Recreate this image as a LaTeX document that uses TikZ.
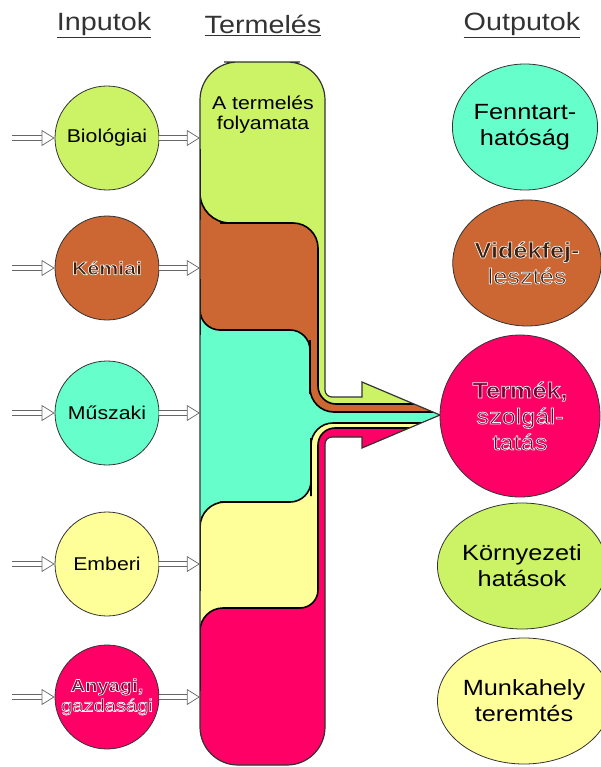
\documentclass[tikz,border=0pt]{standalone}
\usepackage{fontspec}
\setmainfont{Liberation Sans}[FakeStretch=1.15]
\usetikzlibrary{arrows.meta, shapes.geometric}

\definecolor{zold}{HTML}{CCF266}
\definecolor{barna}{HTML}{CC6633}
\definecolor{turkiz}{HTML}{66FFCC}
\definecolor{sarga}{HTML}{FFFF99}
\definecolor{piros}{HTML}{FF0066}
\definecolor{vonal}{HTML}{333333}

% light edge round the letters (fill, then stroke)
\newcommand\halo[1]{\bfseries\special{pdf:literal direct 0.95 0.95 0.95 RG 0.7 w 2 Tr}#1\special{pdf:literal direct 0 Tr}}

\newcommand\termelesut{(262,62) [rounded corners=38pt] -- (325,62) -- (325,250) [rounded corners=7pt] -- (325,300) -- (325,397) -- (345,397) [sharp corners] -- (355,397) -- (362,397) -- (362,382) -- (440,415) -- (362,448) -- (362,437) -- (355,437) [rounded corners=7pt] -- (345,437) -- (325,437) -- (325,500) [rounded corners=38pt] -- (325,600) -- (325,765) -- (200,765) -- (200,62) -- cycle}

\begin{document}
\begin{tikzpicture}[
        x=1pt, y=-1pt,
        bemenet/.style = {circle, draw=vonal, fill=#1, line width=0.8pt, minimum size=104pt, inner sep=0pt, align=center, font=\fontsize{18.5}{20}\selectfont},
        kimenet/.style = {ellipse, draw=vonal, fill=#1, line width=0.8pt, minimum width=136pt, minimum height=126pt, inner sep=0pt, align=center, font=\fontsize{22}{26}\selectfont},
        fejlec/.style = {text=black!80, font=\fontsize{25}{30}\selectfont},
        sav/.style = {fill=#1, draw=black, line width=1.6pt},
        hollow/.style = {draw=gray!80!black, line width=0.7pt, double=white, double distance=4.6pt, -{Triangle[open, fill=white, length=13pt, width=16pt, line width=0.7pt]}}
        ]
        \useasboundingbox (0,0) rectangle (601,767);

        \node (inp) at (104,25) [fejlec] {\underline{Inputok}};
        \node (ter) at (263,25) [fejlec] {\underline{Termelés}};
        \node (out) at (522,25) [fejlec] {\underline{Outputok}};

        \fill[zold] \termelesut;
        \begin{scope}
            \clip \termelesut;
            \path[sav=barna] (190,150) -- (200,150) -- (200,170) [rounded corners=30pt] -- (200,190) -- (200,223) -- (250,223) [rounded corners=25pt] -- (265,223) -- (318,223) -- (318,300) [rounded corners=18pt] -- (318,340) -- (318,404) -- (400,404) [sharp corners] -- (420,404) -- (470,404) -- (470,800) -- (190,800) -- cycle;
            \path[sav=turkiz] (190,280) -- (200,280) -- (200,300) [rounded corners=20pt] -- (200,315) -- (200,330) -- (250,330) -- (310,330) -- (310,360) [rounded corners=24pt] -- (310,370) -- (310,412) -- (400,412) [sharp corners] -- (420,412) -- (470,412) -- (470,800) -- (190,800) -- cycle;
            \path[sav=sarga] (470,423) -- (420,423) [rounded corners=22pt] -- (380,423) -- (311,423) -- (311,460) [rounded corners=21pt] -- (311,475) -- (311,502) -- (260,502) [rounded corners=25pt] -- (245,502) -- (200,502) -- (200,560) [sharp corners] -- (200,575) -- (200,590) -- (190,590) -- (190,800) -- (470,800) -- cycle;
            \path[sav=piros] (470,428) -- (420,428) [rounded corners=17pt] -- (380,428) -- (318,428) -- (318,470) [rounded corners=18pt] -- (318,480) -- (318,608) -- (280,608) [rounded corners=23pt] -- (265,608) -- (200,608) -- (200,660) [sharp corners] -- (200,675) -- (200,690) -- (190,690) -- (190,800) -- (470,800) -- cycle;
        \end{scope}
        \draw[black!80, line width=1.2pt] \termelesut;

        \node (prod) at (262.5,413.5) [minimum width=125pt, minimum height=703pt, inner sep=0pt] {};
        \node (cim) at (263,115) [align=center, font=\fontsize{18.5}{20}\selectfont] {A termelés\\folyamata};

        \node (bio) at (107,138)  [bemenet=zold] {Biológiai};
        \node (kem) at (107,268)  [bemenet=barna, text=barna!30!black] {\halo{Kémiai}};
        \node (musz) at (107,413) [bemenet=turkiz] {Műszaki};
        \node (emb) at (107,564)  [bemenet=sarga] {Emberi};
        \node (any) at (107,697)  [bemenet=piros, text=piros!55!black, font=\fontsize{17.5}{20}\selectfont] {\halo{Anyagi,\\gazdasági}};

        \foreach \n/\y in {bio/138, kem/268, musz/413, emb/564, any/697} {
            \coordinate (\n-be) at (12,\y);
            \draw[hollow] (\n-be) -- (\n);
            \draw[hollow] (\n) -- (\n -| prod.west);
        }

        \node (fenn) at (525,127)   [kimenet=turkiz] {Fenntart-\\hatóság};
        \node (vid) at (527,263)    [kimenet=barna, text=barna!30!black] {\halo{Vidékfej-\\lesztés}};
        \node (termek) at (520,416) [kimenet=piros, minimum width=160pt, minimum height=162pt, text=piros!50!black] {\halo{Termék,\\szolgál-\\tatás}};
        \node (korny) at (522,566)  [kimenet=zold] {Környezeti\\hatások};
        \node (munka) at (524,701)  [kimenet=sarga] {Munkahely\\teremtés};
\end{tikzpicture}
\end{document}
